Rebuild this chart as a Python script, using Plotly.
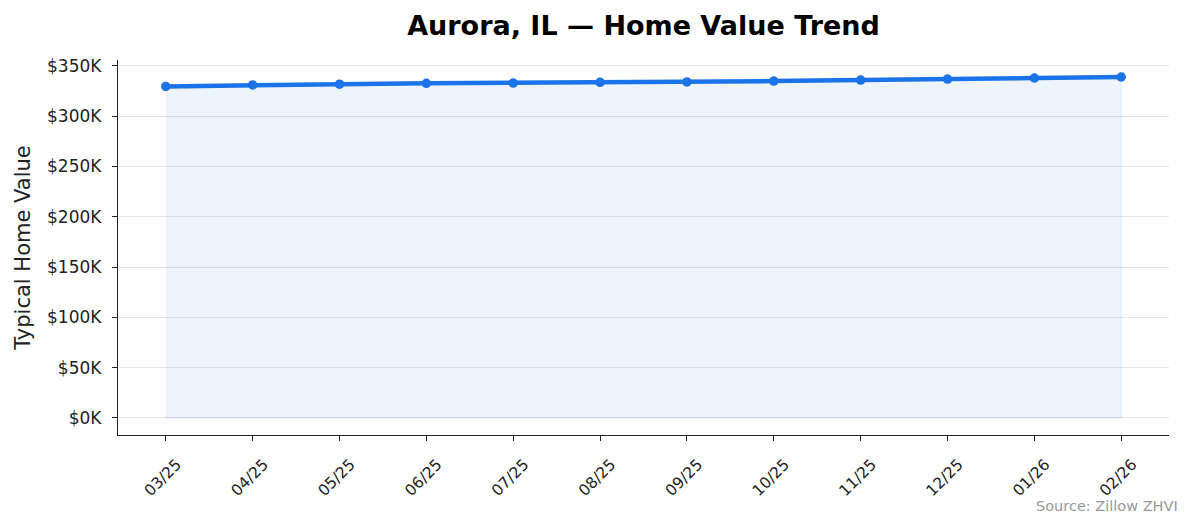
import plotly.graph_objects as go

# ── Data ──────────────────────────────────────────────────────────────────────
MONTHS = ["03/25", "04/25", "05/25", "06/25", "07/25", "08/25",
          "09/25", "10/25", "11/25", "12/25", "01/26", "02/26"]
HOME_VALUES = [329500, 331000, 331800, 332600, 332900, 333600,
               334000, 334800, 335900, 336800, 337900, 338900]
Y_TICKS = [0, 50000, 100000, 150000, 200000, 250000, 300000, 350000]
Y_TICK_TEXT = [f"${v // 1000}K" for v in Y_TICKS]

# ── Style ─────────────────────────────────────────────────────────────────────
BLUE = "#1a73e8"
FILL = "rgba(26,115,232,0.08)"
EDGE = "rgba(26,115,232,0.12)"
AXIS = "#222222"
GRID = "#e6e6e6"
FONT = "DejaVu Sans, sans-serif"

# page body has an 8px margin, so offsets below are shifted by that much
fig = go.Figure()

# shaded area under the line (closed polygon, like fill_between)
fig.add_trace(go.Scatter(
    x=MONTHS + MONTHS[::-1],
    y=HOME_VALUES + [0] * len(MONTHS),
    fill="toself", fillcolor=FILL,
    line=dict(color=EDGE, width=1),
    mode="lines", hoverinfo="skip", showlegend=False,
))

fig.add_trace(go.Scatter(
    x=MONTHS, y=HOME_VALUES,
    mode="lines+markers",
    line=dict(color=BLUE, width=4.5),
    marker=dict(color=BLUE, size=9.5),
    showlegend=False,
))

fig.update_layout(
    width=1194, height=529,
    paper_bgcolor="white", plot_bgcolor="white",
    font=dict(family=FONT, color=AXIS),
    margin=dict(l=110, r=33, t=52, b=102),
    title=dict(
        text="<b>Aurora, IL — Home Value Trend</b>",
        font=dict(size=27, color="black"),
        x=0.5, xref="paper", xanchor="center",
        y=1 - 18 / 529, yref="container", yanchor="middle",
    ),
    xaxis=dict(
        type="category",
        range=[-0.55, len(MONTHS) - 1 + 0.55],
        showline=True, linecolor=AXIS, linewidth=1.3,
        ticks="outside", ticklen=5, tickwidth=1.3, tickcolor=AXIS,
        tickangle=-45, tickfont=dict(size=15.5),
        ticklabelshift=11, ticklabelstandoff=8,
        showgrid=False, zeroline=False,
    ),
    yaxis=dict(
        range=[-17000, 355800],
        tickvals=Y_TICKS, ticktext=Y_TICK_TEXT,
        showline=True, linecolor=AXIS, linewidth=1.3,
        ticks="outside", ticklen=5, tickwidth=1.3, tickcolor=AXIS,
        tickfont=dict(size=17), ticklabelstandoff=7,
        showgrid=True, gridcolor=GRID, gridwidth=1,
        zeroline=False,
        title=dict(text="Typical Home Value", font=dict(size=21), standoff=10),
    ),
)

fig.add_annotation(
    text="Source: Zillow ZHVI",
    xref="paper", yref="paper",
    x=1.0105, y=-0.189, xanchor="right", yanchor="middle",
    showarrow=False, font=dict(size=14.5, color="#999999"),
)

fig.write_html("out.html")
